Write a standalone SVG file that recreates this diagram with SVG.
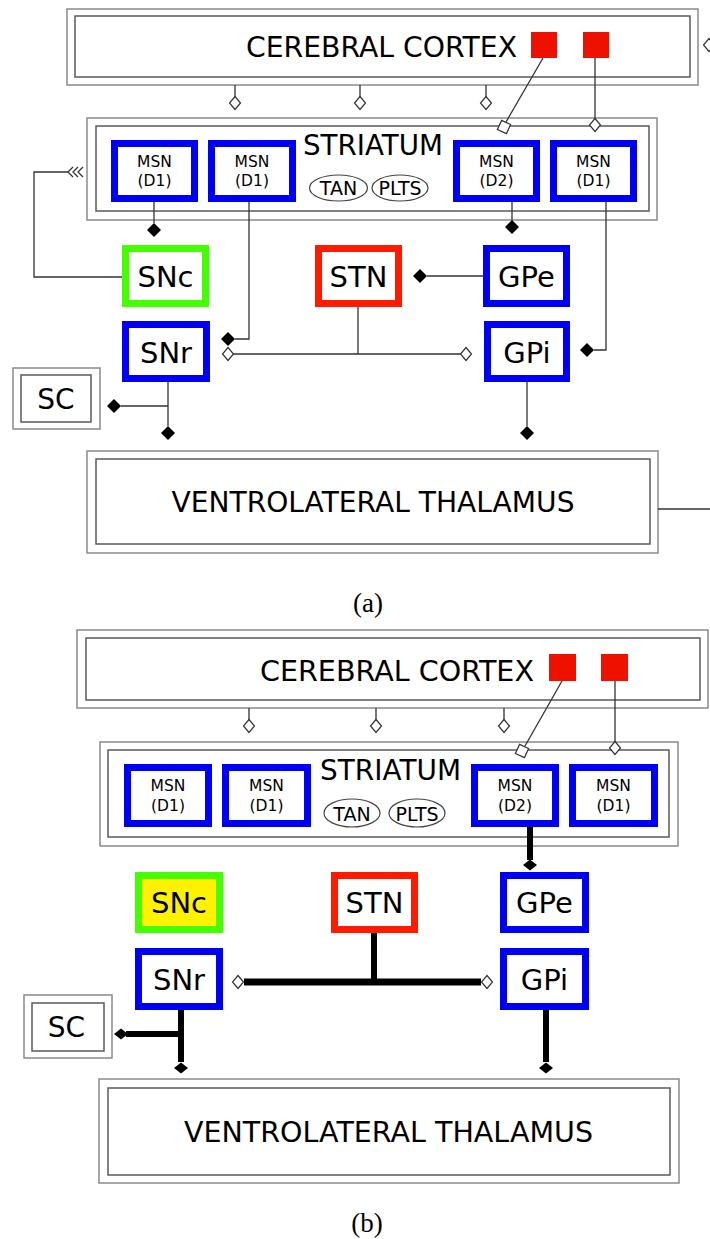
<svg xmlns="http://www.w3.org/2000/svg" xmlns:xlink="http://www.w3.org/1999/xlink" width="710" height="1239" viewBox="0 0 710 1239">
<style>
.out{fill:#fff;stroke:#8a8a8a;stroke-width:1.5}
.in{fill:none;stroke:#5a5a5a;stroke-width:1.5}
.box{fill:#fff;stroke:#0000f5;stroke-width:7}
.grn{stroke:#44ff00}
.red{stroke:#ff1a00}
.yel{fill:#fff200}
.t{font-family:"DejaVu Sans","Liberation Sans",sans-serif;fill:#000;text-anchor:middle}
.big{font-size:29px}
.node{font-size:29px}
.msn{font-size:15.5px}
.sm{font-size:19px}
.ell{fill:#fff;stroke:#444;stroke-width:1.2}
.c{stroke:#333;stroke-width:1.3;fill:none}
.k{stroke:#000;stroke-width:6;fill:none}
.fd{fill:#000}
.hd{fill:#fff;stroke:#333;stroke-width:1.2}
.sq{fill:#ee1100}
.cap{font-family:"Liberation Serif",serif;font-size:27px;text-anchor:middle;fill:#000}
</style>
<defs>
<path id="fdia" d="M0,-7 L7,0 L0,7 L-7,0Z"/>
<path id="hdia" d="M0,-6.5 L5.5,0 L0,6.5 L-5.5,0Z"/>
<path id="sdia" d="M0,-5.5 L7,0 L0,5.5 L-7,0Z"/>
<rect id="hsq" x="-5" y="-5" width="10" height="10"/>
</defs>
<rect width="710" height="1239" fill="#fff"/>

<!-- ===== Panel (a) ===== -->
<g id="a-cortex">
<rect class="out" x="67" y="9" width="631" height="76"/>
<rect class="in" x="75" y="16" width="615" height="61"/>
<text class="t big" x="381.5" y="57" textLength="271" lengthAdjust="spacingAndGlyphs">CEREBRAL CORTEX</text>
<rect class="sq" x="531" y="32" width="26" height="26"/>
<rect class="sq" x="583" y="32" width="26" height="26"/>
</g>
<g id="a-striatum">
<rect class="out" x="87" y="118" width="570" height="102"/>
<rect class="in" x="96" y="126" width="553" height="85"/>
<text class="t big" x="373" y="155" textLength="140" lengthAdjust="spacingAndGlyphs">STRIATUM</text>
<ellipse class="ell" cx="338.5" cy="188" rx="29" ry="13"/>
<text class="t sm" x="338.5" y="195">TAN</text>
<ellipse class="ell" cx="400" cy="188" rx="28" ry="13"/>
<text class="t sm" x="400" y="195">PLTS</text>
</g>
<g id="a-msn1"><rect class="box" x="114.5" y="143.5" width="80" height="55"/><text class="t msn" x="154.5" y="167">MSN</text><text class="t msn" x="154.5" y="186">(D1)</text></g>
<g id="a-msn2"><rect class="box" x="211.5" y="143.5" width="81" height="55"/><text class="t msn" x="252" y="167">MSN</text><text class="t msn" x="252" y="186">(D1)</text></g>
<g id="a-msn3"><rect class="box" x="456.5" y="143.5" width="80" height="55"/><text class="t msn" x="496.5" y="167">MSN</text><text class="t msn" x="496.5" y="186">(D2)</text></g>
<g id="a-msn4"><rect class="box" x="553.5" y="143.5" width="80" height="55"/><text class="t msn" x="593.5" y="167">MSN</text><text class="t msn" x="593.5" y="186">(D1)</text></g>
<g id="a-snc"><rect class="box grn" x="125.5" y="248.5" width="80" height="55"/><text class="t node" x="165.5" y="287">SNc</text></g>
<g id="a-stn"><rect class="box red" x="318.5" y="248.5" width="80" height="55"/><text class="t node" x="358.5" y="287">STN</text></g>
<g id="a-gpe"><rect class="box" x="486.5" y="248.5" width="80" height="55"/><text class="t node" x="526.5" y="287">GPe</text></g>
<g id="a-snr"><rect class="box" x="125.5" y="324.5" width="81" height="54"/><text class="t node" x="166" y="363">SNr</text></g>
<g id="a-gpi"><rect class="box" x="487.5" y="324.5" width="79" height="54"/><text class="t node" x="527" y="363">GPi</text></g>
<g id="a-sc">
<rect class="out" x="13" y="368" width="87" height="61"/>
<rect class="in" x="21" y="375" width="70" height="47"/>
<text class="t" style="font-size:28px" x="56" y="409">SC</text>
</g>
<g id="a-thalamus">
<rect class="out" x="87" y="451" width="571" height="102"/>
<rect class="in" x="96" y="459" width="554" height="85"/>
<text class="t node" x="373" y="512" textLength="403" lengthAdjust="spacingAndGlyphs">VENTROLATERAL THALAMUS</text>
</g>
<g id="a-connectors">
<path class="c" d="M235,85V97 M360,85V97 M486,85V97"/>
<use href="#hdia" x="235" y="103" class="hd"/>
<use href="#hdia" x="360" y="103" class="hd"/>
<use href="#hdia" x="486" y="103" class="hd"/>
<use href="#hdia" x="709" y="45" class="hd"/>
<path class="c" d="M543,58L506,122"/>
<use href="#hsq" class="hd" transform="translate(504,127) rotate(25)"/>
<path class="c" d="M595,58V119"/>
<use href="#hdia" x="595" y="125" class="hd"/>
<path class="c" d="M154,202V223"/>
<use href="#fdia" x="154" y="230" class="fd"/>
<path class="c" d="M122,277H34V172H68"/>
<path class="c" d="M73,167L68,172L73,177 M78,167L73,172L78,177 M83,167L78,172L83,177"/>
<path class="c" d="M249,202V339H235"/>
<use href="#fdia" x="228" y="339" class="fd"/>
<path class="c" d="M512,202V220"/>
<use href="#fdia" x="512" y="227" class="fd"/>
<path class="c" d="M483,276H427"/>
<use href="#fdia" x="420" y="276" class="fd"/>
<path class="c" d="M606,202V350H594"/>
<use href="#fdia" x="587" y="350" class="fd"/>
<path class="c" d="M358,307V354 M233,354H461"/>
<use href="#hdia" x="228" y="354" class="hd"/>
<use href="#hdia" x="466" y="354" class="hd"/>
<path class="c" d="M168,382V426 M168,406H121"/>
<use href="#fdia" x="168" y="433" class="fd"/>
<use href="#fdia" x="114" y="406" class="fd"/>
<path class="c" d="M527,382V426"/>
<use href="#fdia" x="527" y="433" class="fd"/>
<path class="c" d="M658,509H710"/>
</g>
<text class="cap" x="368" y="612">(a)</text>

<!-- ===== Panel (b) ===== -->
<g id="b-cortex">
<rect class="out" x="77" y="630" width="631" height="78"/>
<rect class="in" x="86" y="638" width="614" height="62"/>
<text class="t big" x="397" y="681" textLength="274" lengthAdjust="spacingAndGlyphs">CEREBRAL CORTEX</text>
<rect class="sq" x="549" y="654" width="27" height="27"/>
<rect class="sq" x="601" y="654" width="27" height="27"/>
</g>
<g id="b-striatum">
<rect class="out" x="100" y="742" width="578" height="104"/>
<rect class="in" x="108" y="750" width="561" height="87"/>
<text class="t big" x="390.5" y="780" textLength="141" lengthAdjust="spacingAndGlyphs">STRIATUM</text>
<ellipse class="ell" cx="352" cy="813" rx="28" ry="14"/>
<text class="t sm" x="352" y="821">TAN</text>
<ellipse class="ell" cx="417" cy="813" rx="28" ry="14"/>
<text class="t sm" x="417" y="821">PLTS</text>
</g>
<g id="b-msn1"><rect class="box" x="127.5" y="767.5" width="81" height="56"/><text class="t msn" x="168" y="791">MSN</text><text class="t msn" x="168" y="811">(D1)</text></g>
<g id="b-msn2"><rect class="box" x="225.5" y="767.5" width="82" height="56"/><text class="t msn" x="266.5" y="791">MSN</text><text class="t msn" x="266.5" y="811">(D1)</text></g>
<g id="b-msn3"><rect class="box" x="474.5" y="767.5" width="81" height="56"/><text class="t msn" x="515" y="791">MSN</text><text class="t msn" x="515" y="811">(D2)</text></g>
<g id="b-msn4"><rect class="box" x="572.5" y="767.5" width="82" height="56"/><text class="t msn" x="613.5" y="791">MSN</text><text class="t msn" x="613.5" y="811">(D1)</text></g>
<g id="b-snc"><rect class="box grn yel" x="138.5" y="875.5" width="81" height="54"/><text class="t node" x="179" y="913">SNc</text></g>
<g id="b-stn"><rect class="box red" x="334.5" y="875.5" width="80" height="54"/><text class="t node" x="374.5" y="913">STN</text></g>
<g id="b-gpe"><rect class="box" x="503.5" y="875.5" width="82" height="54"/><text class="t node" x="544.5" y="913">GPe</text></g>
<g id="b-snr"><rect class="box" x="138.5" y="951.5" width="81" height="55"/><text class="t node" x="179" y="990">SNr</text></g>
<g id="b-gpi"><rect class="box" x="503.5" y="951.5" width="82" height="55"/><text class="t node" x="544.5" y="990">GPi</text></g>
<g id="b-sc">
<rect class="out" x="24" y="995" width="88" height="63"/>
<rect class="in" x="32" y="1003" width="72" height="48"/>
<text class="t" style="font-size:28px" x="66.5" y="1037">SC</text>
</g>
<g id="b-thalamus">
<rect class="out" x="99" y="1079" width="580" height="104"/>
<rect class="in" x="108" y="1088" width="562" height="87"/>
<text class="t node" x="388.5" y="1142" textLength="409" lengthAdjust="spacingAndGlyphs">VENTROLATERAL THALAMUS</text>
</g>
<g id="b-connectors">
<path class="c" d="M249,708V720 M376,708V720 M504,708V720"/>
<use href="#hdia" x="249" y="726" class="hd"/>
<use href="#hdia" x="376" y="726" class="hd"/>
<use href="#hdia" x="504" y="726" class="hd"/>
<path class="c" d="M562,681L525,746"/>
<use href="#hsq" class="hd" transform="translate(522,751) rotate(25)"/>
<path class="c" d="M615,681V742"/>
<use href="#hdia" x="615" y="748" class="hd"/>
<path class="k" d="M530,827V860"/>
<use href="#sdia" x="530" y="865" class="fd"/>
<path class="k" d="M374,933V982"/>
<path class="k" style="stroke-width:7" d="M244,982H481"/>
<use href="#hdia" x="238" y="982" class="hd"/>
<use href="#hdia" x="487" y="982" class="hd"/>
<path class="k" d="M181,1010V1062 M181,1034H126"/>
<use href="#sdia" x="181" y="1068" class="fd"/>
<use href="#sdia" x="121" y="1034" class="fd"/>
<path class="k" d="M546,1010V1062"/>
<use href="#sdia" x="546" y="1068" class="fd"/>
</g>
<text class="cap" x="367" y="1232">(b)</text>
</svg>
